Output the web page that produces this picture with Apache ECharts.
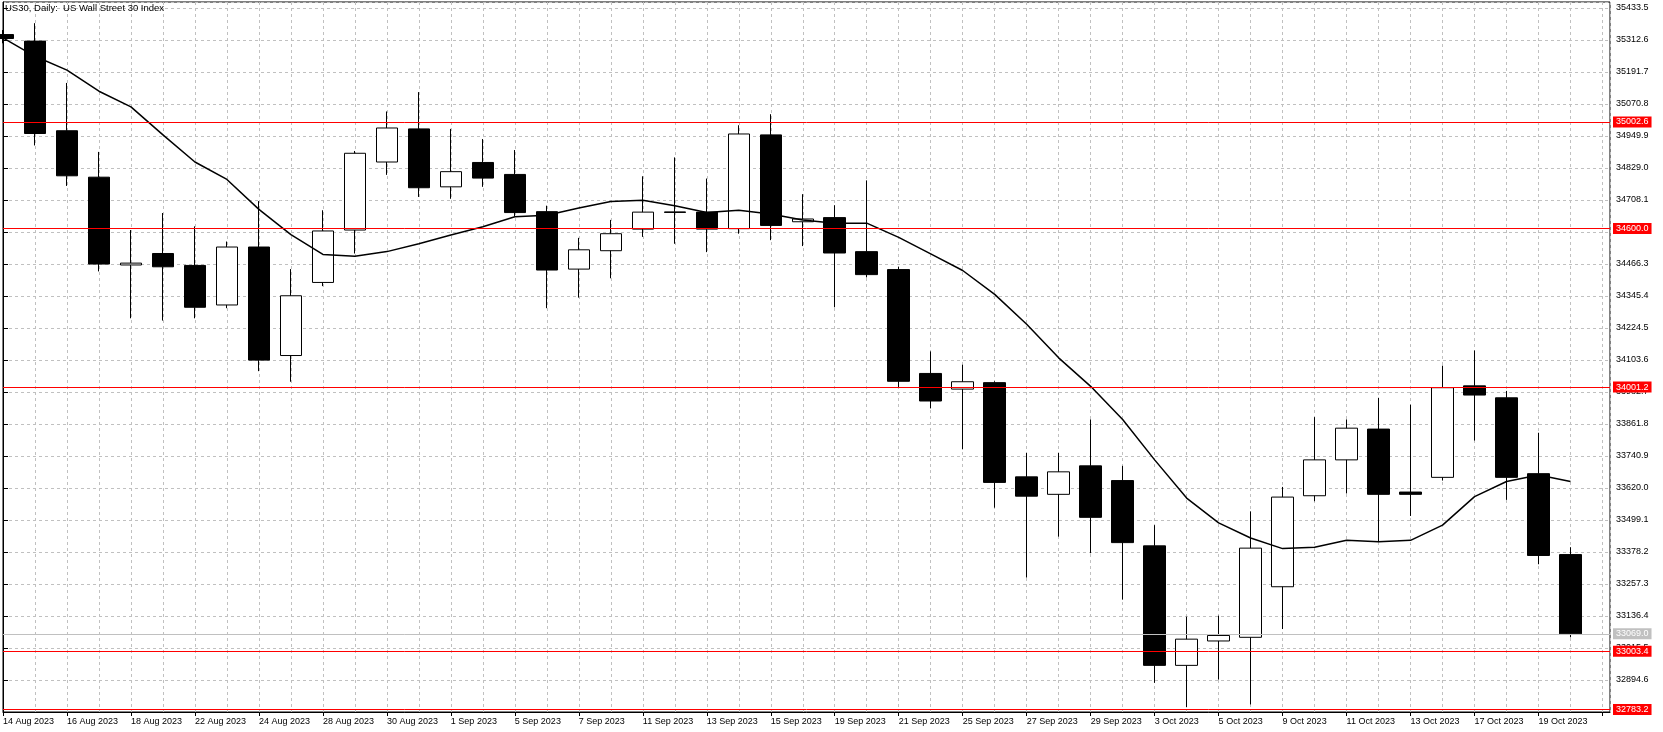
<!DOCTYPE html>
<html><head><meta charset="utf-8">
<script src="https://cdn.jsdelivr.net/npm/echarts@6/dist/echarts.min.js"></script>
<style>html,body{margin:0;padding:0;background:#fff}#c{width:1663px;height:732px}</style>
</head><body><div id="c"></div>
<script>
const titleText = 'US30, Daily:  US Wall Street 30 Index';
const dates = [
 '14 Aug 2023','15 Aug 2023','16 Aug 2023','17 Aug 2023','18 Aug 2023','21 Aug 2023','22 Aug 2023','23 Aug 2023','24 Aug 2023','25 Aug 2023',
 '28 Aug 2023','29 Aug 2023','30 Aug 2023','31 Aug 2023','1 Sep 2023','4 Sep 2023','5 Sep 2023','6 Sep 2023','7 Sep 2023','8 Sep 2023',
 '11 Sep 2023','12 Sep 2023','13 Sep 2023','14 Sep 2023','15 Sep 2023','18 Sep 2023','19 Sep 2023','20 Sep 2023','21 Sep 2023','22 Sep 2023',
 '25 Sep 2023','26 Sep 2023','27 Sep 2023','28 Sep 2023','29 Sep 2023','2 Oct 2023','3 Oct 2023','4 Oct 2023','5 Oct 2023','6 Oct 2023',
 '9 Oct 2023','10 Oct 2023','11 Oct 2023','12 Oct 2023','13 Oct 2023','16 Oct 2023','17 Oct 2023','18 Oct 2023','19 Oct 2023','20 Oct 2023'
];
const openV = [
 35333,35308.2,34969.6,34794.2,34462.5,34505.9,34460.8,34311.4,34530.3,34120.4,
 34396.5,34594.5,34851.5,34976.6,34757.7,34849.8,34804.6,34664.0,34446.9,34516.4,
 34598.0,34663.0,34662.2,34599.7,34954.0,34625.8,34641.4,34512.9,34445.1,34052.7,
 33993.6,34018.0,33662.0,33596.0,33703.6,33648.0,33401.4,32949.9,33042.0,33055.9,
 33246.9,33590.7,33726.2,33842.5,33604.6,33660.2,34005.8,33960.7,33674.1,33368.4
];
const closeV = [
 35318,34959.2,34799.4,34466.0,34469.5,34455.6,34302.7,34530.3,34103.1,34346.2,
 34591.0,34884.5,34980.0,34754.3,34815.0,34790.7,34660.5,34443.4,34519.8,34580.6,
 34662.2,34661.0,34598.0,34957.4,34611.9,34636.2,34507.7,34426.1,34023.1,33948.6,
 34021.4,33641.1,33589.1,33681.0,33509.1,33413.6,32949.9,33048.9,33062.8,33392.8,
 33585.6,33726.2,33846.0,33596.0,33596.0,33998.9,33971.1,33660.2,33365.0,33069.0
];
const lowV = [
 35300,34914.0,34761.2,34438.2,34261.1,34252.4,34261.1,34299.3,34061.4,34021.4,
 34382.6,34505.9,34802.9,34719.5,34712.6,34757.7,34646.6,34299.3,34339.2,34412.2,
 34568.6,34542.6,34511.0,34580.6,34556.3,34533.9,34302.7,34415.6,33998.9,33920.7,
 33766.2,33545.6,33281.6,33436.2,33373.7,33198.2,32883.9,32791.9,32896.1,32802.3,
 33087.1,33569.9,33599.4,33418.8,33514.3,33648.0,33799.2,33575.1,33331.9,33055.9
];
const highV = [
 35350,35376.0,35150.2,34889.7,34594.5,34658.8,34608.4,34551.1,34703.9,34446.9,
 34669.2,34893.2,35042.5,35115.6,34976.6,34938.4,34896.7,34686.5,34565.0,34632.7,
 34797.7,34868.9,34789.0,34990.4,35032.1,34730.0,34688.3,34782.1,34455.6,34136.0,
 34085.7,34023.1,33752.2,33752.2,33879.0,33703.6,33479.6,33134.0,33137.5,33531.7,
 33624.0,33887.7,33879.0,33960.7,33934.6,34082.2,34139.5,33986.7,33828.7,33396.3
];
const maV = [
 35320.4,35250.9,35198.8,35118.9,35059.9,34954.0,34851.5,34785.6,34672.7,34577.0,
 34502.5,34495.5,34513.0,34542.6,34575.4,34606.7,34644.9,34650.0,34677.9,34702.2,
 34707.4,34686.5,34660.5,34669.2,34655.3,34632.7,34620.6,34620.6,34566.7,34504.2,
 34441.7,34351.4,34238.5,34111.7,34004.0,33879.0,33726.2,33582.0,33488.2,33430.9,
 33391.0,33396.3,33422.3,33417.1,33422.3,33479.6,33587.4,33644.6,33668.9,33644.6
];
const redLevels = [35002.6, 34600.0, 34001.2, 33003.4, 32783.2];
const bidLevel = 33069.0;
const yMin = 32773.7, yMax = 35456, yStep = 120.9;

const FONT = 'Liberation Sans';
const gridLeft = 2.5, gridRight = 53, barSpacing = 32;
const xMax = (1663 - gridRight - gridLeft) / barSpacing;
const dash = {color: '#c0c0c0', width: 1, type: [3, 3]};

const candleData = dates.map((d, i) => [i, openV[i], closeV[i], lowV[i], highV[i]]);
const maData = maV.map((v, i) => [i, v]);

function lvlLabel(bg) {
  return {show: true, position: 'end', distance: 3, formatter: p => p.value.toFixed(1),
    color: '#fff', backgroundColor: bg, padding: [1, 3, 0, 3], fontSize: 9, lineHeight: 10, fontFamily: FONT};
}
const markData = redLevels.map(v => ({yAxis: v, lineStyle: {color: '#ff0000', width: 1, type: 'solid'}, label: lvlLabel('#ff0000')}));
markData.push({yAxis: bidLevel, lineStyle: {color: '#c0c0c0', width: 1, type: 'solid'}, label: lvlLabel('#c0c0c0')});

const chart = echarts.init(document.getElementById('c'), null, {renderer: 'canvas'});
chart.setOption({
  animation: false,
  backgroundColor: '#fff',
  textStyle: {fontFamily: FONT},
  title: {text: titleText, left: 5, top: 3, padding: 0,
    textStyle: {fontSize: 9.5, fontWeight: 'normal', color: '#000', fontFamily: FONT}},
  grid: {left: gridLeft, right: gridRight, top: 2, bottom: 20, show: true, borderColor: '#000', borderWidth: 1, backgroundColor: 'transparent'},
  xAxis: [{
    type: 'value', min: 0, max: xMax, interval: 2, position: 'bottom',
    axisLine: {show: true, onZero: false, lineStyle: {color: '#000'}},
    axisTick: {show: true, length: 4, lineStyle: {color: '#000'}},
    axisLabel: {formatter: v => dates[v] || '', color: '#000', fontSize: 9, fontFamily: FONT, align: 'left', margin: 5, showMaxLabel: false},
    splitLine: {show: false}
  }, {
    type: 'value', min: 0, max: xMax, interval: 1, position: 'bottom',
    axisLine: {show: false}, axisTick: {show: false}, axisLabel: {show: false},
    splitLine: {show: true, lineStyle: dash}
  }],
  yAxis: {
    type: 'value', position: 'right', min: yMin, max: yMax, interval: yStep,
    axisLine: {show: true, lineStyle: {color: '#000'}},
    axisTick: {show: true, length: 5, lineStyle: {color: '#000'}},
    axisLabel: {formatter: v => v.toFixed(1), color: '#000', fontSize: 9, fontFamily: FONT, margin: 6, showMinLabel: false, showMaxLabel: false},
    splitLine: {show: true, lineStyle: dash}
  },
  series: [{
    type: 'candlestick', xAxisIndex: 0, data: candleData, encode: {x: 0, y: [1, 2, 3, 4]},
    barWidth: 22, clip: true,
    itemStyle: {color: '#fff', color0: '#000', borderColor: '#000', borderColor0: '#000', borderColorDoji: '#000', borderWidth: 1}
  }, {
    type: 'line', xAxisIndex: 0, data: maData, symbol: 'none', showSymbol: false, clip: true,
    lineStyle: {color: '#000', width: 1.5}, z: 3,
    markLine: {symbol: 'none', silent: true, animation: false, data: markData}
  }]
});
</script>
</body></html>
